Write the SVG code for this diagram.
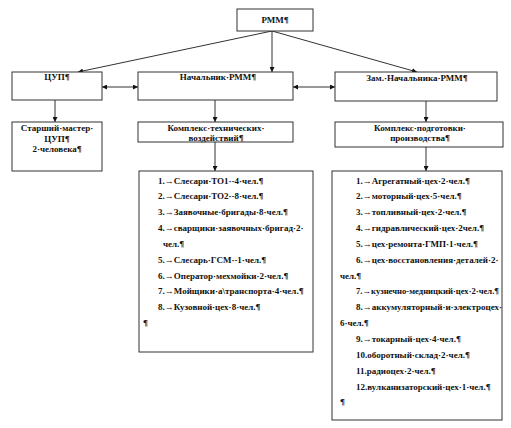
<svg xmlns="http://www.w3.org/2000/svg" width="511" height="428" viewBox="0 0 511 428">
<defs>
<marker id="ah" viewBox="0 0 6 6" refX="6" refY="3" markerWidth="5" markerHeight="5" orient="auto-start-reverse" markerUnits="userSpaceOnUse">
<path d="M0,0 L6,3 L0,6 z" fill="#111"/>
</marker>
<style>
.box{fill:#fff;stroke:#333;stroke-width:1}
.t{font-family:"Liberation Serif","Times New Roman",serif;font-weight:bold;font-size:9px;fill:#111}
.c{text-anchor:middle}
.ln{stroke:#333;stroke-width:1;fill:none}
</style>
</defs>
<rect width="511" height="428" fill="#fff"/>
<g id="connectors">
<line class="ln" x1="272" y1="31" x2="78" y2="72" marker-end="url(#ah)"/>
<line class="ln" x1="272" y1="31" x2="272" y2="72" marker-end="url(#ah)"/>
<line class="ln" x1="272" y1="31" x2="417" y2="72" marker-end="url(#ah)"/>
<line class="ln" x1="102" y1="87" x2="138" y2="87" marker-start="url(#ah)" marker-end="url(#ah)"/>
<line class="ln" x1="293" y1="87" x2="335" y2="87" marker-start="url(#ah)" marker-end="url(#ah)"/>
<line class="ln" x1="55" y1="100" x2="55" y2="122" marker-end="url(#ah)"/>
<line class="ln" x1="215" y1="100" x2="215" y2="122" marker-end="url(#ah)"/>
<line class="ln" x1="426" y1="101" x2="426" y2="122" marker-end="url(#ah)"/>
<line class="ln" x1="215" y1="142" x2="215" y2="171" marker-end="url(#ah)"/>
<line class="ln" x1="426" y1="147" x2="426" y2="171" marker-end="url(#ah)"/>
</g>
<g id="rmm">
<rect class="box" x="237" y="9" width="76" height="22"/>
<text class="t c" x="275" y="23">РММ¶</text>
</g>
<g id="cup">
<rect class="box" x="12" y="72" width="90" height="28"/>
<text class="t c" x="57" y="80">ЦУП¶</text>
</g>
<g id="nachalnik">
<rect class="box" x="138" y="72" width="155" height="28"/>
<text class="t c" x="218" y="80">Начальник·РММ¶</text>
</g>
<g id="zam">
<rect class="box" x="335" y="72" width="162" height="29"/>
<text class="t c" x="417" y="81">Зам.·Начальника·РММ¶</text>
</g>
<g id="starshiy">
<rect class="box" x="12" y="122" width="90" height="49"/>
<text class="t c" x="57" y="131">Старший·мастер·</text>
<text class="t c" x="57" y="141.5">ЦУП¶</text>
<text class="t c" x="57" y="152">2·человека¶</text>
</g>
<g id="kompleks-tech">
<rect class="box" x="138" y="122" width="155" height="20"/>
<text class="t c" x="216" y="130.5">Комплекс·технических·</text>
<text class="t c" x="216" y="140.5">воздействий¶</text>
</g>
<g id="kompleks-podg">
<rect class="box" x="335" y="122" width="168" height="25"/>
<text class="t c" x="420" y="130.5">Комплекс·подготовки·</text>
<text class="t c" x="420" y="141">производства¶</text>
</g>
<g id="list-left">
<rect class="box" x="139" y="171" width="174" height="181"/>
<text class="t" x="158" y="183.5">1.→Слесари·ТО1·-4·чел.¶</text>
<text class="t" x="158" y="199.3">2.→Слесари·ТО2·-8·чел.¶</text>
<text class="t" x="158" y="215.2">3.→Заявочные·бригады·8·чел.¶</text>
<text class="t" x="158" y="231">4.→сварщики·заявочных·бригад·2·</text>
<text class="t" x="163" y="246.9">чел.¶</text>
<text class="t" x="158" y="262.7">5.→Слесарь·ГСМ·-1·чел.¶</text>
<text class="t" x="158" y="278.6">6.→Оператор·мехмойки·2·чел.¶</text>
<text class="t" x="158" y="294.4">7.→Мойщики·а\транспорта·4·чел.¶</text>
<text class="t" x="158" y="310.3">8.→Кузовной·цех·8·чел.¶</text>
<text class="t" x="143" y="326.1">¶</text>
</g>
<g id="list-right">
<rect class="box" x="332" y="171" width="170" height="249"/>
<text class="t" x="356" y="183.5">1.→Агрегатный·цех·2·чел.¶</text>
<text class="t" x="356" y="199.3">2.→моторный·цех·5·чел.¶</text>
<text class="t" x="356" y="215.2">3.→топливный·цех·2·чел.¶</text>
<text class="t" x="356" y="231">4.→гидравлический·цех·2чел.¶</text>
<text class="t" x="356" y="246.9">5.→цех·ремонта·ГМП·1·чел.¶</text>
<text class="t" x="356" y="262.7">6.→цех·восстановления·деталей·2·</text>
<text class="t" x="340" y="278.6">чел.¶</text>
<text class="t" x="356" y="294.4" textLength="143" lengthAdjust="spacingAndGlyphs">7.→кузнечно-медницкий·цех·2·чел.¶</text>
<text class="t" x="356" y="310.3">8.→аккумуляторный·и·электроцех·</text>
<text class="t" x="340" y="326.1">6·чел.¶</text>
<text class="t" x="356" y="342">9.→токарный·цех·4·чел.¶</text>
<text class="t" x="356" y="357.8">10.оборотный·склад·2·чел.¶</text>
<text class="t" x="356" y="373.7">11.радиоцех·2·чел.¶</text>
<text class="t" x="356" y="389.5">12.вулканизаторский·цех·1·чел.¶</text>
<text class="t" x="340" y="405.4">¶</text>
</g>
</svg>
